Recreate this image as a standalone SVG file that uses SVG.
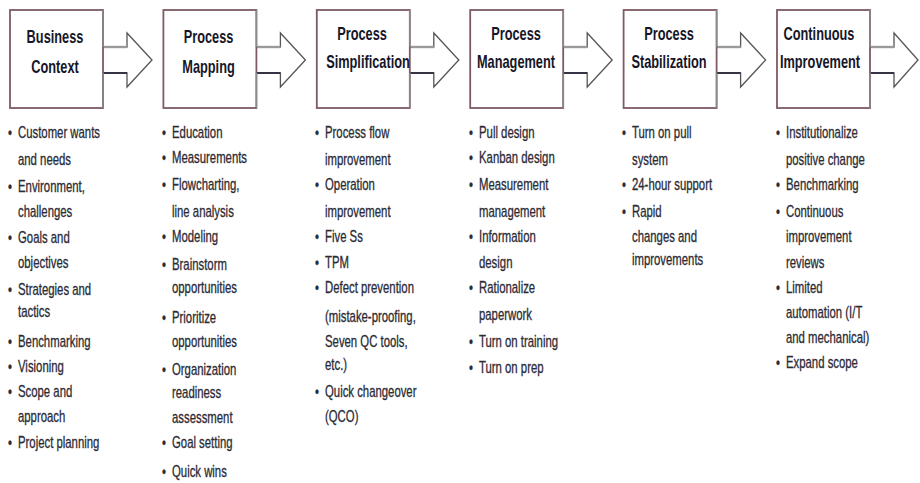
<svg xmlns="http://www.w3.org/2000/svg" width="920" height="483" viewBox="0 0 920 483">
<style>
.box{fill:#fff;stroke:#7e5a62;stroke-width:1.8}
.redge{fill:none;stroke:#8a8a8a;stroke-width:1.4}
.head{fill:#fff;stroke:#555;stroke-width:1.3;stroke-linejoin:miter}
.up{stroke:#9a9a9a;stroke-width:2.4}
.lo{stroke:#222238;stroke-width:1.6}
.t{font-family:"Liberation Sans",Arial,sans-serif;font-weight:bold;font-size:18px;fill:#161628;text-anchor:middle}
.b{font-family:"Liberation Sans",Arial,sans-serif;font-size:16px;fill:#2b2b35;stroke:#2b2b35;stroke-width:0.3}
</style>
<g id="connectors">
<path class="head" d="M103,47 H127 V33 L152,60 L127,87 V73 H103"/>
<line class="up" x1="103" y1="47" x2="127" y2="47"/><line class="lo" x1="103" y1="73" x2="127" y2="73"/>
<path class="head" d="M256.4,47 H280.4 V33 L305.4,60 L280.4,87 V73 H256.4"/>
<line class="up" x1="256.4" y1="47" x2="280.4" y2="47"/><line class="lo" x1="256.4" y1="73" x2="280.4" y2="73"/>
<path class="head" d="M409.8,47 H433.8 V33 L458.8,60 L433.8,87 V73 H409.8"/>
<line class="up" x1="409.8" y1="47" x2="433.8" y2="47"/><line class="lo" x1="409.8" y1="73" x2="433.8" y2="73"/>
<path class="head" d="M563.2,47 H587.2 V33 L612.2,60 L587.2,87 V73 H563.2"/>
<line class="up" x1="563.2" y1="47" x2="587.2" y2="47"/><line class="lo" x1="563.2" y1="73" x2="587.2" y2="73"/>
<path class="head" d="M716.6,47 H740.6 V33 L765.6,60 L740.6,87 V73 H716.6"/>
<line class="up" x1="716.6" y1="47" x2="740.6" y2="47"/><line class="lo" x1="716.6" y1="73" x2="740.6" y2="73"/>
<path class="head" d="M870,47 H894 V33 L918,60 L894,87 V73 H870"/>
<line class="up" x1="870" y1="47" x2="894" y2="47"/><line class="lo" x1="870" y1="73" x2="894" y2="73"/>
</g>
<g id="node-business-context">
<rect class="box" x="10" y="10" width="93" height="98"/>
<path class="redge" d="M103,10 V47 M103,73 V108"/>
<text class="t" transform="translate(55,43) scale(0.71,1)">Business</text>
<text class="t" transform="translate(55,73) scale(0.71,1)">Context</text>
</g>
<g id="node-process-mapping">
<rect class="box" x="163.4" y="10" width="93" height="98"/>
<path class="redge" d="M256.4,10 V47 M256.4,73 V108"/>
<text class="t" transform="translate(208.5,43) scale(0.71,1)">Process</text>
<text class="t" transform="translate(208.5,73) scale(0.71,1)">Mapping</text>
</g>
<g id="node-process-simplification">
<rect class="box" x="316.8" y="10" width="93" height="98"/>
<path class="redge" d="M409.8,10 V47 M409.8,73 V108"/>
<text class="t" transform="translate(362,40) scale(0.71,1)">Process</text>
<text class="t" transform="translate(368,68) scale(0.71,1)">Simplification</text>
</g>
<g id="node-process-management">
<rect class="box" x="470.2" y="10" width="93" height="98"/>
<path class="redge" d="M563.2,10 V47 M563.2,73 V108"/>
<text class="t" transform="translate(516,40) scale(0.71,1)">Process</text>
<text class="t" transform="translate(516,68) scale(0.71,1)">Management</text>
</g>
<g id="node-process-stabilization">
<rect class="box" x="623.6" y="10" width="93" height="98"/>
<path class="redge" d="M716.6,10 V47 M716.6,73 V108"/>
<text class="t" transform="translate(669,40) scale(0.71,1)">Process</text>
<text class="t" transform="translate(669,68) scale(0.71,1)">Stabilization</text>
</g>
<g id="node-continuous-improvement">
<rect class="box" x="777" y="10" width="93" height="98"/>
<path class="redge" d="M870,10 V47 M870,73 V108"/>
<text class="t" transform="translate(819,40) scale(0.71,1)">Continuous</text>
<text class="t" transform="translate(820,68) scale(0.71,1)">Improvement</text>
</g>
<g id="list-business-context" class="b" transform="translate(18,0) scale(0.71,1)">
<text x="-14" y="138">•</text><text x="0" y="138">Customer wants</text>
<text x="0" y="165">and needs</text>
<text x="-14" y="192">•</text><text x="0" y="192">Environment,</text>
<text x="0" y="217">challenges</text>
<text x="-14" y="243">•</text><text x="0" y="243">Goals and</text>
<text x="0" y="268">objectives</text>
<text x="-14" y="295">•</text><text x="0" y="295">Strategies and</text>
<text x="0" y="317">tactics</text>
<text x="-14" y="347">•</text><text x="0" y="347">Benchmarking</text>
<text x="-14" y="372">•</text><text x="0" y="372">Visioning</text>
<text x="-14" y="397">•</text><text x="0" y="397">Scope and</text>
<text x="0" y="422">approach</text>
<text x="-14" y="448">•</text><text x="0" y="448">Project planning</text>
</g>
<g id="list-process-mapping" class="b" transform="translate(172,0) scale(0.71,1)">
<text x="-14" y="138">•</text><text x="0" y="138">Education</text>
<text x="-14" y="163">•</text><text x="0" y="163">Measurements</text>
<text x="-14" y="190">•</text><text x="0" y="190">Flowcharting,</text>
<text x="0" y="217">line analysis</text>
<text x="-14" y="242">•</text><text x="0" y="242">Modeling</text>
<text x="-14" y="270">•</text><text x="0" y="270">Brainstorm</text>
<text x="0" y="293">opportunities</text>
<text x="-14" y="323">•</text><text x="0" y="323">Prioritize</text>
<text x="0" y="347">opportunities</text>
<text x="-14" y="375">•</text><text x="0" y="375">Organization</text>
<text x="0" y="398">readiness</text>
<text x="0" y="423">assessment</text>
<text x="-14" y="448">•</text><text x="0" y="448">Goal setting</text>
<text x="-14" y="477">•</text><text x="0" y="477">Quick wins</text>
</g>
<g id="list-process-simplification" class="b" transform="translate(325,0) scale(0.71,1)">
<text x="-14" y="138">•</text><text x="0" y="138">Process flow</text>
<text x="0" y="165">improvement</text>
<text x="-14" y="190">•</text><text x="0" y="190">Operation</text>
<text x="0" y="217">improvement</text>
<text x="-14" y="242">•</text><text x="0" y="242">Five Ss</text>
<text x="-14" y="268">•</text><text x="0" y="268">TPM</text>
<text x="-14" y="293">•</text><text x="0" y="293">Defect prevention</text>
<text x="0" y="322">(mistake-proofing,</text>
<text x="0" y="347">Seven QC tools,</text>
<text x="0" y="370">etc.)</text>
<text x="-14" y="397">•</text><text x="0" y="397">Quick changeover</text>
<text x="0" y="422">(QCO)</text>
</g>
<g id="list-process-management" class="b" transform="translate(479,0) scale(0.71,1)">
<text x="-14" y="138">•</text><text x="0" y="138">Pull design</text>
<text x="-14" y="163">•</text><text x="0" y="163">Kanban design</text>
<text x="-14" y="190">•</text><text x="0" y="190">Measurement</text>
<text x="0" y="217">management</text>
<text x="-14" y="242">•</text><text x="0" y="242">Information</text>
<text x="0" y="268">design</text>
<text x="-14" y="293">•</text><text x="0" y="293">Rationalize</text>
<text x="0" y="320">paperwork</text>
<text x="-14" y="347">•</text><text x="0" y="347">Turn on training</text>
<text x="-14" y="373">•</text><text x="0" y="373">Turn on prep</text>
</g>
<g id="list-process-stabilization" class="b" transform="translate(632,0) scale(0.71,1)">
<text x="-14" y="138">•</text><text x="0" y="138">Turn on pull</text>
<text x="0" y="165">system</text>
<text x="-14" y="190">•</text><text x="0" y="190">24-hour support</text>
<text x="-14" y="217">•</text><text x="0" y="217">Rapid</text>
<text x="0" y="242">changes and</text>
<text x="0" y="265">improvements</text>
</g>
<g id="list-continuous-improvement" class="b" transform="translate(786,0) scale(0.71,1)">
<text x="-14" y="138">•</text><text x="0" y="138">Institutionalize</text>
<text x="0" y="165">positive change</text>
<text x="-14" y="190">•</text><text x="0" y="190">Benchmarking</text>
<text x="-14" y="217">•</text><text x="0" y="217">Continuous</text>
<text x="0" y="242">improvement</text>
<text x="0" y="268">reviews</text>
<text x="-14" y="293">•</text><text x="0" y="293">Limited</text>
<text x="0" y="318">automation (I/T</text>
<text x="0" y="343">and mechanical)</text>
<text x="-14" y="368">•</text><text x="0" y="368">Expand scope</text>
</g>
</svg>
